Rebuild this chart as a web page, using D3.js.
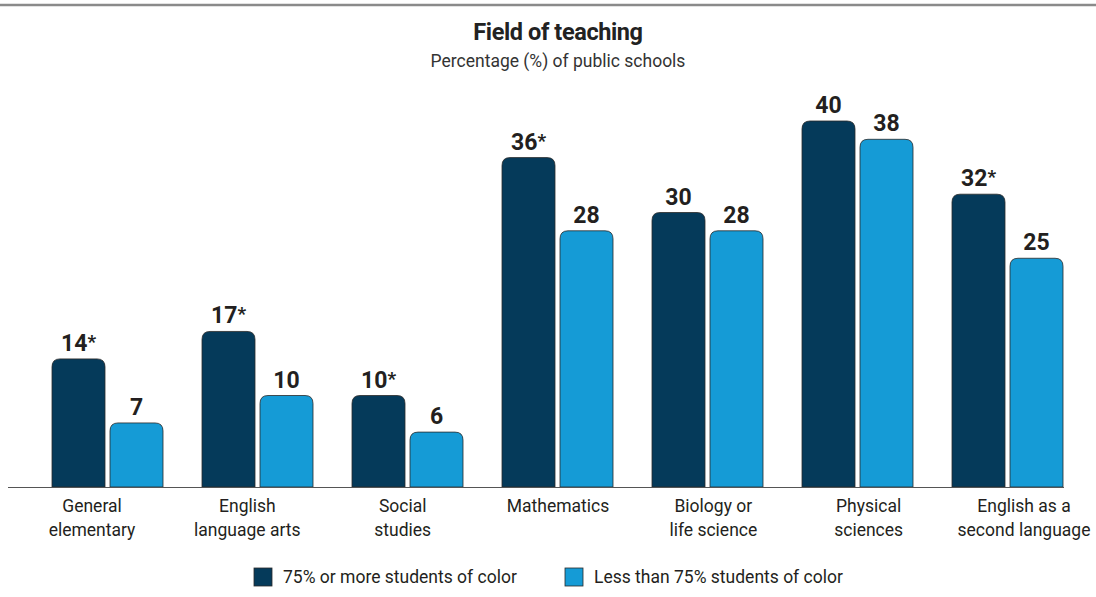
<!DOCTYPE html>
<html>
<head>
<meta charset="utf-8">
<script src="https://cdn.jsdelivr.net/npm/d3@7"></script>
<style>
  html, body { margin: 0; padding: 0; background: #fff; }
  svg { display: block; font-family: Roboto, "Noto Sans", sans-serif; }
</style>
</head>
<body>
<svg id="chart" width="1096" height="597"></svg>
<script>
// Fields of teaching and shares of public schools in each group
const categories = [
  ["General", "elementary"],
  ["English", "language arts"],
  ["Social", "studies"],
  ["Mathematics"],
  ["Biology or", "life science"],
  ["Physical", "sciences"],
  ["English as a", "second language"]
];
const seriesNames = ["75% or more students of color", "Less than 75% students of color"];
const highShare = [14, 17, 10, 36, 30, 40, 32];
const lowShare = [7, 10, 6, 28, 28, 38, 25];
const significant = [true, true, true, true, false, false, true];
const colors = ["#053a5a", "#159bd6"];

const svg = d3.select("#chart");
const W = 1096;

// Rule across the top
svg.append("line")
  .attr("x1", 0).attr("x2", W).attr("y1", 5).attr("y2", 5)
  .attr("stroke", "#8a8a8a").attr("stroke-width", 2.5);

svg.append("text")
  .attr("x", 558).attr("y", 40)
  .attr("text-anchor", "middle")
  .attr("font-size", 23.5).attr("font-weight", 700)
  .attr("fill", "#222")
  .attr("letter-spacing", -0.4)
  .text("Field of teaching");

svg.append("text")
  .attr("x", 558).attr("y", 67)
  .attr("text-anchor", "middle")
  .attr("font-size", 17.5)
  .attr("fill", "#333")
  .text("Percentage (%) of public schools");

const baseY = 487;
const x0 = d3.scaleBand()
  .domain(d3.range(categories.length))
  .range([32.5, 1082.5])
  .paddingInner(0.26)
  .paddingOuter(0.13);
const x1 = d3.scaleBand()
  .domain([0, 1])
  .range([0, x0.bandwidth()])
  .paddingInner(5 / 58);
const y = d3.scaleLinear().domain([0, 40]).range([baseY, 121]);
// Category labels sit on their own, slightly wider, spacing
const xl = d3.scalePoint()
  .domain(d3.range(categories.length))
  .range([92, 1024]);

const rows = categories.map((c, i) => ({
  i,
  vals: [
    { s: 0, v: highShare[i], star: significant[i] },
    { s: 1, v: lowShare[i], star: false }
  ]
}));

// Bar with rounded top corners only
function topRounded(xp, yp, w, h, r) {
  r = Math.min(r, w / 2, h);
  return `M${xp},${yp + h}V${yp + r}Q${xp},${yp} ${xp + r},${yp}H${xp + w - r}Q${xp + w},${yp} ${xp + w},${yp + r}V${yp + h}Z`;
}

const groups = svg.selectAll("g.grp").data(rows).join("g")
  .attr("class", "grp")
  .attr("transform", d => `translate(${x0(d.i)},0)`);

groups.selectAll("path.bar").data(d => d.vals).join("path")
  .attr("class", "bar")
  .attr("d", d => topRounded(x1(d.s), y(d.v), x1.bandwidth(), baseY - y(d.v), 8))
  .attr("fill", d => colors[d.s])
  .attr("stroke", "#2a2a2a")
  .attr("stroke-width", 0.8);

const lbl = groups.selectAll("text.val").data(d => d.vals).join("text")
  .attr("class", "val")
  .attr("x", d => x1(d.s) + x1.bandwidth() / 2)
  .attr("y", d => y(d.v) - 8)
  .attr("text-anchor", "middle")
  .attr("font-size", 23).attr("font-weight", 700)
  .attr("fill", "#231f20");
lbl.append("tspan").text(d => d.v);
lbl.filter(d => d.star).append("tspan")
  .attr("font-size", 19).attr("dy", -3).text("*");

// Baseline
svg.append("line")
  .attr("x1", 8).attr("x2", 1064).attr("y1", baseY + 0.5).attr("y2", baseY + 0.5)
  .attr("stroke", "#555").attr("stroke-width", 1);

// Category labels
svg.selectAll("text.cat").data(rows).join("text")
  .attr("class", "cat")
  .attr("text-anchor", "middle")
  .attr("font-size", 17.5)
  .attr("fill", "#231f20")
  .selectAll("tspan").data(d => categories[d.i].map(t => ({ t, i: d.i }))).join("tspan")
  .attr("x", d => xl(d.i))
  .attr("y", (d, k) => 512 + k * 24)
  .text(d => d.t);

// Legend
const legendX = [254, 565];
const leg = svg.selectAll("g.leg").data(seriesNames).join("g")
  .attr("class", "leg")
  .attr("transform", (d, i) => `translate(${legendX[i]},568)`);
leg.append("rect")
  .attr("width", 18).attr("height", 18)
  .attr("fill", (d, i) => colors[i])
  .attr("stroke", "#2a2a2a").attr("stroke-width", 0.8);
leg.append("text")
  .attr("x", 29).attr("y", 15)
  .attr("font-size", 17.5)
  .attr("fill", "#231f20")
  .text(d => d);
</script>
</body>
</html>
